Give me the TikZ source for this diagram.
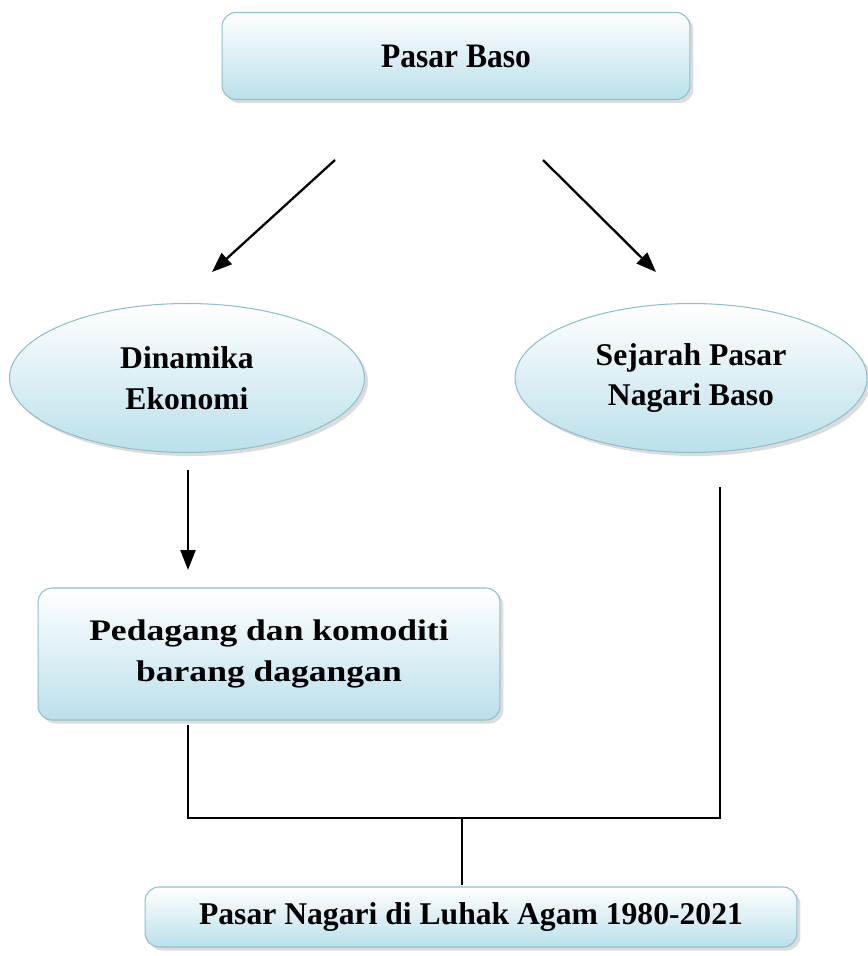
\documentclass[tikz,border=0pt]{standalone}
\usepackage{fontspec}
\setmainfont{Liberation Serif}
\newfontfamily\widefont{Liberation Serif}[FakeStretch=1.19]
\newfontfamily\tallfont{Liberation Serif}[FakeStretch=0.92]
\usetikzlibrary{positioning, shapes.geometric, shadows, arrows.meta}

\definecolor{boxblue}{RGB}{186,224,234}
\definecolor{rimblue}{RGB}{140,192,206}

\tikzset{
  box/.style={draw=rimblue, line width=0.6pt, rounded corners=8pt,
    top color=white, bottom color=boxblue,
    drop shadow={shadow xshift=2pt, shadow yshift=-2pt, fill=gray!55},
    font=\bfseries, align=center, inner sep=0},
  oval/.style={box, ellipse, rounded corners=0pt},
  link/.style={line width=1.3pt},
  arr/.style={link, -{Triangle[length=0.4cm,width=0.3cm]}}
}

\begin{document}
\begin{tikzpicture}[x=0.02cm,y=-0.02cm]
      \useasboundingbox (0,0) rectangle (867,956);

      \node(pasar)[box, minimum width=9.36cm, minimum height=1.74cm, font=\tallfont\bfseries\fontsize{19.5}{21}\selectfont] at (456,56) {Pasar Baso};

      \node(dinamika)[oval, minimum width=7.1cm, minimum height=2.98cm, font=\bfseries\fontsize{18}{23.3}\selectfont] at (187,378) {Dinamika\\Ekonomi};
      \node(sejarah)[oval, minimum width=7.04cm, minimum height=2.98cm, font=\bfseries\fontsize{18}{23.3}\selectfont] at (691,378) {Sejarah Pasar\\Nagari Baso};

      \node(pedagang)[box, minimum width=9.24cm, minimum height=2.64cm, font=\widefont\bfseries\fontsize{17}{23.8}\selectfont] at (269,654) {Pedagang dan komoditi\\barang dagangan};

      \node(luhak)[box, minimum width=13.04cm, minimum height=1.2cm, font=\bfseries\fontsize{18}{20}\selectfont] at (471,917) {Pasar Nagari di Luhak Agam 1980-2021};

      % free ends of the arrows
      \coordinate(l1) at (335,160);
      \coordinate(l2) at (212,272);
      \coordinate(r1) at (543,160);
      \coordinate(r2) at (656,272);
      \coordinate(d1) at (188,470);
      \coordinate(d2) at (188,570);
      \coordinate(p1) at (188,725);
      \coordinate(s1) at (720,487);
      \coordinate(j1) at (462,818);
      \coordinate(j2) at (462,885);

      \draw[arr](l1)--(l2);
      \draw[arr](r1)--(r2);
      \draw[arr](d1)--(d2);
      \draw[link](p1)|-(j1)-|(s1);
      \draw[link](j1)--(j2);
    \end{tikzpicture}
\end{document}
